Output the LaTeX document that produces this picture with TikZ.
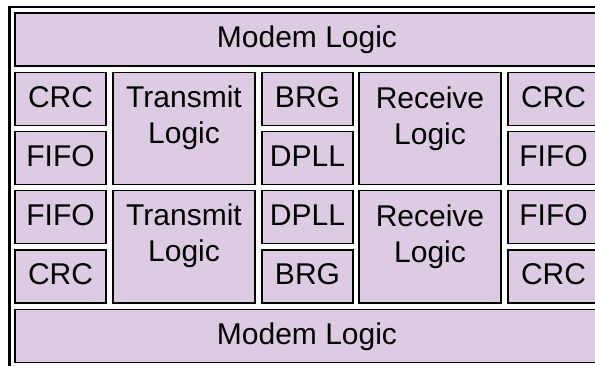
\documentclass[tikz,border=0pt]{standalone}
\usepackage{fontspec}
\setmainfont{Liberation Sans}
\definecolor{cellpurple}{RGB}{221,203,227}

\tikzset{
    cell/.style={draw, line width=1.7pt, fill=cellpurple, inner sep=0pt,
                 text height=21pt, text depth=4pt, font=\fontsize{30}{36}\selectfont},
    smallbox/.style={cell, minimum width=91pt, minimum height=53pt},
    logicbox/.style={cell, minimum width=142pt, minimum height=112pt},
    modembox/.style={cell, minimum width=584pt, minimum height=53pt},
    logictext/.style={anchor=north, inner sep=0pt, align=center, font=\fontsize{30}{36}\selectfont}
}

\begin{document}
\begin{tikzpicture}[x=1pt,y=-1pt]
    \useasboundingbox (0,0) rectangle (595,366);
    \clip (0,0) rectangle (595,366);

    % Outer frame
    \node[draw, line width=2.2pt, inner sep=0pt, minimum width=596pt, minimum height=362pt] (frame) at (307.5,188) {};

    % Top modem logic
    \node[modembox] (modemtop) at (307,39.5) {Modem Logic};

    % First channel
    \node[smallbox] (crc1) at (60.5,99) {CRC};
    \node[smallbox] (fifo1) at (60.5,158) {FIFO};
    \node[logicbox] (txtop) at (184,128.5) {};
    \node[logictext] (txtoptext) at ([yshift=-14pt]txtop.north) {Transmit\\Logic};
    \node[smallbox] (brg1) at (307.5,99) {BRG};
    \node[smallbox] (dpll1) at (307.5,158) {DPLL};
    \node[logicbox] (rxtop) at (430,128.5) {};
    \node[logictext] (rxtoptext) at ([yshift=-15pt]rxtop.north) {Receive\\Logic};
    \node[smallbox] (crc2) at (553.5,99) {CRC};
    \node[smallbox] (fifo2) at (553.5,158) {FIFO};

    % Second channel
    \node[smallbox] (fifo3) at (60.5,217) {FIFO};
    \node[smallbox] (crc3) at (60.5,276.5) {CRC};
    \node[logicbox, minimum height=112.5pt] (txbot) at (184,246.75) {};
    \node[logictext] (txbottext) at ([yshift=-14pt]txbot.north) {Transmit\\Logic};
    \node[smallbox] (dpll2) at (307.5,217) {DPLL};
    \node[smallbox] (brg2) at (307.5,276.5) {BRG};
    \node[logicbox, minimum height=112.5pt] (rxbot) at (430,246.75) {};
    \node[logictext] (rxbottext) at ([yshift=-15pt]rxbot.north) {Receive\\Logic};
    \node[smallbox] (fifo4) at (553.5,217) {FIFO};
    \node[smallbox] (crc4) at (553.5,276.5) {CRC};

    % Bottom modem logic
    \node[modembox] (modembot) at (307,336) {Modem Logic};
\end{tikzpicture}
\end{document}
